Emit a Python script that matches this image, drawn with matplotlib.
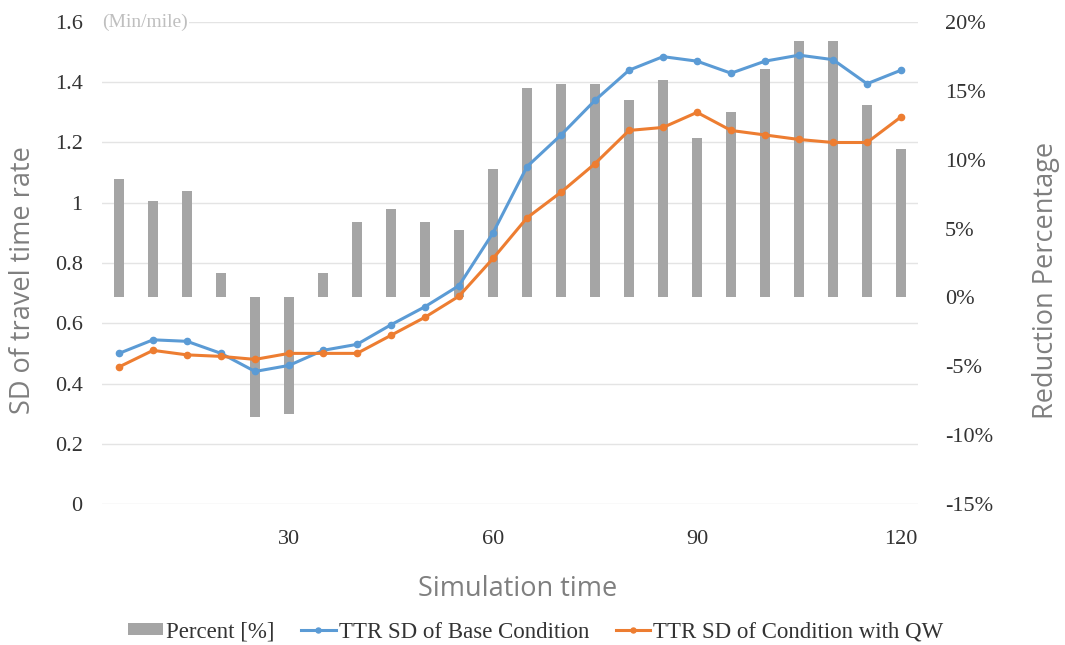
import matplotlib
matplotlib.use("Agg")
import matplotlib.pyplot as plt
from matplotlib.ticker import FuncFormatter, FixedLocator

times = list(range(5, 125, 5))
percent = [8.6, 7.0, 7.7, 1.8, -8.7, -8.5, 1.8, 5.5, 6.4, 5.5, 4.9, 9.3,
           15.2, 15.5, 15.5, 14.3, 15.8, 11.6, 13.5, 16.6, 18.6, 18.6, 14.0, 10.8]
base_sd = [0.50, 0.545, 0.54, 0.50, 0.44, 0.46, 0.51, 0.53, 0.595, 0.655, 0.725, 0.90,
           1.12, 1.225, 1.34, 1.44, 1.485, 1.47, 1.43, 1.47, 1.49, 1.475, 1.395, 1.44]
qw_sd = [0.455, 0.51, 0.495, 0.49, 0.48, 0.50, 0.50, 0.50, 0.56, 0.62, 0.69, 0.815,
         0.95, 1.035, 1.13, 1.24, 1.25, 1.30, 1.24, 1.225, 1.21, 1.20, 1.20, 1.285]
x_ticks = [30, 60, 90, 120]
left_ticks = [0, 0.2, 0.4, 0.6, 0.8, 1.0, 1.2, 1.4, 1.6]
left_labels = ["0", "0.2", "0.4", "0.6", "0.8", "1", "1.2", "1.4", "1.6"]
right_ticks = [-15, -10, -5, 0, 5, 10, 15, 20]

serif = "Liberation Serif"
sans = "Open Sans"
tick_col = "#333333"
lab_col = "#7f7f7f"

fig = plt.figure(figsize=(10.65, 6.45), dpi=100)
ax = fig.add_axes([0.0958, 0.2186, 0.7662, 0.7473])
ax2 = ax.twinx()

ax.set_zorder(2)
ax.patch.set_visible(False)
ax2.set_zorder(1)

ax2.bar(times, percent, width=1.5, color="#a5a5a5", label="Percent [%]", zorder=2)
ax2.set_ylim(-15, 20)
ax2.yaxis.set_major_locator(FixedLocator(right_ticks))
ax2.yaxis.set_major_formatter(FuncFormatter(lambda v, p: f"{int(round(v))}%"))

l1, = ax.plot(times, base_sd, color="#5b9bd5", lw=2.2, marker="o", ms=4.5,
              label="TTR SD of Base Condition", zorder=3)
l2, = ax.plot(times, qw_sd, color="#ed7d31", lw=2.2, marker="o", ms=4.5,
              label="TTR SD of Condition with QW", zorder=3)
ax.set_ylim(0, 1.6)
ax.set_xlim(2.5, 122.5)
ax.yaxis.set_major_locator(FixedLocator(left_ticks))
ax.set_yticklabels(left_labels)
ax.set_xticks(x_ticks)

for v in left_ticks:
    ax2.axhline(-15 + v / 1.6 * 35, color="#e4e4e4", lw=1.0, zorder=0)

for a in (ax, ax2):
    for s in a.spines.values():
        s.set_visible(False)
    a.tick_params(length=0)

ax.tick_params(axis="y", pad=14, labelsize=16, labelcolor=tick_col)
ax.tick_params(axis="x", pad=19, labelsize=16, labelcolor=tick_col)
ax2.tick_params(axis="y", pad=19.5, labelsize=16, labelcolor=tick_col)
for lab in ax.get_xticklabels() + ax.get_yticklabels() + ax2.get_yticklabels():
    lab.set_family(serif)

W, H = 1065.0, 645.0
fig.text(23 / W, 1 - 280 / H, "SD of travel time rate", family=sans, fontsize=19.5,
         color=lab_col, rotation=90, ha="center", va="center")
fig.text(1046 / W, 1 - 280 / H, "Reduction Percentage", family=sans, fontsize=19.5,
         color=lab_col, rotation=90, ha="center", va="center")
fig.text(517.5 / W, 1 - 589 / H, "Simulation time", family=sans, fontsize=19.5,
         color=lab_col, ha="center", va="center")

ax.text(0.0, 1.0, "(Min/mile)", transform=ax.transAxes, family=serif, fontsize=14,
        color="#bfbfbf", ha="left", va="center",
        bbox=dict(facecolor="white", edgecolor="none", pad=1.0), zorder=5)

bars_handle = ax2.containers[0]
fig.legend([bars_handle, l1, l2],
           ["Percent [%]", "TTR SD of Base Condition", "TTR SD of Condition with QW"],
           loc="center", bbox_to_anchor=(536 / W, 1 - 632 / H), ncol=3, frameon=False,
           prop={"family": serif, "size": 16.5}, labelcolor=tick_col,
           handlelength=1.5, handleheight=0.45, handletextpad=0.13, columnspacing=1.18,
           markerscale=0.8)

fig.savefig("out.png", dpi=100)
